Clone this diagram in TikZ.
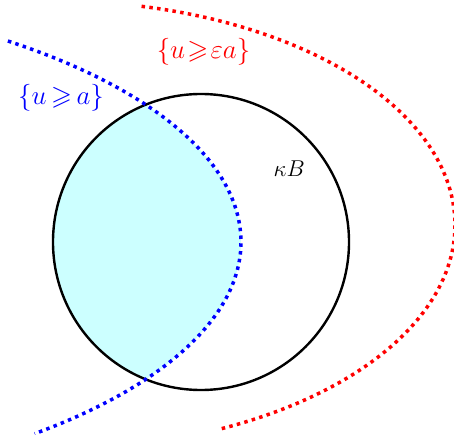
\RequirePackage{fix-cm}
\documentclass[tikz,border=0pt]{standalone}
\usepackage{amssymb}
\definecolor{cyanfill}{RGB}{204,255,255}
\begin{document}
\begin{tikzpicture}[x=1bp,y=-1bp,
  dotline/.style={line width=3.5bp, dash pattern=on 3.5bp off 4.3bp},
  lbl/.style={inner sep=0pt, font=\fontsize{27}{32}\selectfont}]
\useasboundingbox (0,0) rectangle (454,435);
\clip (0,0) rectangle (454,435);
\begin{scope}
  \clip (201,242) circle [radius=148bp];
  \fill[cyanfill] plot[domain=0:360,samples=200] ({-359+600*cos(\x)},{242+254*sin(\x)}) -- cycle;
\end{scope}
\draw[line width=2.4bp] (201,242) circle [radius=148bp];
\draw[dotline, blue] plot[domain=-52.3:49,samples=150] ({-359+600*cos(\x)},{242+254*sin(\x)});
\draw[dotline, red] plot[domain=-77.5:66,samples=150] ({55+400*cos(\x)},{225+224*sin(\x)});
\node[lbl, text=blue] (la) at (61,98) {$\thickmuskip=3mu\{u\geqslant a\}$};
\node[lbl, text=red] (lea) at (203.5,51.7) {$\thickmuskip=1.5mu\{u\geqslant\varepsilon a\}$};
\node[inner sep=0pt, font=\fontsize{23}{27}\selectfont, anchor=base west] (kb) at (273.5,177) {$\kappa B$};
\end{tikzpicture}
\end{document}
